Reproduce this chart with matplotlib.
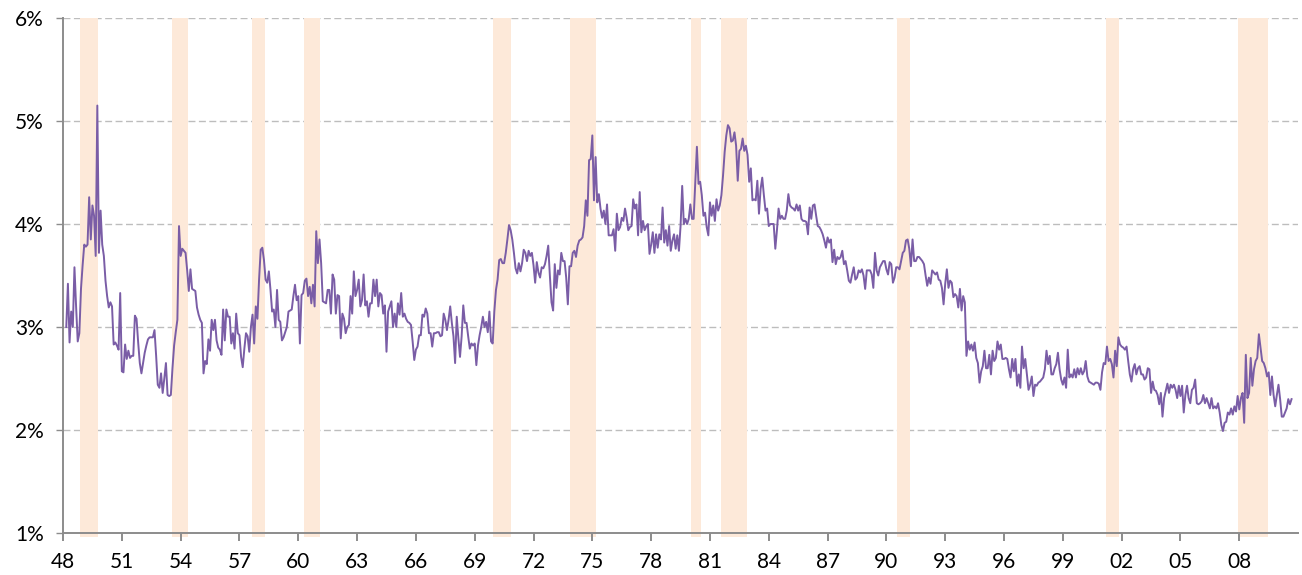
import numpy as np
import matplotlib
matplotlib.use("Agg")
import matplotlib.pyplot as plt

# Monthly series, March 1948 .. September 2010 (percent)
rate_1940s = [
    3.0, 3.42, 2.85, 3.15, 3.0, 3.58, 3.2, 2.86, 2.94, 3.37,                  # 1948 (Mar-Dec)
    3.6, 3.8, 3.78, 3.8, 4.26, 3.85, 4.18, 4.08, 3.69, 5.15, 3.72, 4.13,      # 1949
]
rate_1950s = [
    3.8, 3.69, 3.45, 3.3, 3.19, 3.24, 3.2, 2.83, 2.85, 2.82, 2.78, 3.33,      # 1950
    2.57, 2.56, 2.83, 2.69, 2.77, 2.70, 2.72, 2.72, 3.11, 3.08, 2.85, 2.65,   # 1951
    2.55, 2.65, 2.75, 2.82, 2.88, 2.9, 2.9, 2.9, 2.97, 2.72, 2.44, 2.41,      # 1952
    2.55, 2.36, 2.5, 2.65, 2.34, 2.33, 2.34, 2.6, 2.82, 2.95, 3.07, 3.98,     # 1953
    3.69, 3.76, 3.74, 3.72, 3.55, 3.35, 3.56, 3.37, 3.36, 3.35, 3.19, 3.12,   # 1954
    3.07, 3.04, 2.55, 2.67, 2.64, 2.88, 2.77, 3.07, 2.97, 3.07, 2.87, 2.8,    # 1955
    2.78, 2.73, 3.17, 2.87, 3.17, 3.1, 3.1, 2.84, 2.94, 2.79, 3.13, 2.94,     # 1956
    2.92, 2.71, 2.61, 2.79, 2.94, 2.91, 2.76, 3.0, 3.12, 2.84, 3.2, 3.08,     # 1957
    3.46, 3.75, 3.77, 3.65, 3.46, 3.43, 3.54, 3.36, 3.15, 3.17, 3.0, 3.36,    # 1958
    3.07, 3.05, 2.87, 2.9, 2.95, 3.0, 3.15, 3.16, 3.17, 3.3, 3.41, 3.26,      # 1959
]
rate_1960s = [
    3.3, 2.84, 3.31, 3.33, 3.45, 3.47, 3.3, 3.39, 3.23, 3.41, 3.2, 3.93,      # 1960
    3.62, 3.85, 3.62, 3.25, 3.24, 3.23, 3.36, 3.36, 3.13, 3.51, 3.46, 3.13,   # 1961
    3.31, 3.3, 2.89, 3.13, 3.08, 2.94, 3.0, 3.02, 3.3, 3.13, 3.54, 3.3,       # 1962
    3.36, 3.46, 3.2, 3.26, 3.51, 3.21, 3.25, 3.1, 3.23, 3.23, 3.46, 3.3,      # 1963
    3.46, 3.2, 3.33, 3.31, 3.13, 3.21, 2.76, 3.15, 3.2, 3.25, 3.0, 3.13,      # 1964
    3.0, 3.23, 3.12, 3.33, 3.1, 3.13, 3.08, 3.05, 3.04, 3.02, 2.86, 2.68,     # 1965
    2.78, 2.81, 2.92, 2.92, 3.12, 3.1, 3.18, 3.13, 2.94, 2.94, 2.81, 2.94,    # 1966
    2.94, 2.95, 2.95, 2.91, 2.92, 3.13, 3.07, 2.97, 3.07, 3.2, 3.04, 2.91,    # 1967
    2.65, 3.1, 2.89, 2.71, 2.91, 3.21, 3.04, 3.04, 2.91, 2.79, 2.84, 2.82,    # 1968
    2.84, 2.63, 2.82, 2.92, 3.0, 3.1, 3.0, 3.05, 2.95, 3.15, 2.86, 2.84,      # 1969
]
rate_1970s = [
    3.15, 3.36, 3.46, 3.65, 3.66, 3.62, 3.62, 3.72, 3.85, 3.99, 3.94, 3.85,   # 1970
    3.72, 3.57, 3.52, 3.62, 3.54, 3.62, 3.75, 3.72, 3.64, 3.74, 3.69, 3.72,   # 1971
    3.6, 3.43, 3.63, 3.53, 3.48, 3.58, 3.57, 3.61, 3.69, 3.79, 3.5, 3.24,     # 1972
    3.16, 3.61, 3.38, 3.55, 3.51, 3.72, 3.64, 3.64, 3.48, 3.22, 3.59, 3.59,   # 1973
    3.72, 3.74, 3.68, 3.79, 3.84, 3.85, 3.87, 3.98, 4.23, 4.08, 4.62, 4.63,   # 1974
    4.86, 4.23, 4.65, 4.21, 4.29, 4.15, 4.06, 4.13, 4.0, 4.19, 3.89, 3.89,    # 1975
    3.89, 3.95, 3.74, 4.1, 3.94, 3.97, 4.06, 4.03, 4.15, 4.06, 3.94, 3.97,    # 1976
    3.98, 4.24, 4.15, 4.19, 3.89, 4.31, 3.92, 4.03, 3.94, 3.98, 4.0, 3.71,    # 1977
    3.8, 3.92, 3.72, 3.9, 3.77, 3.9, 3.85, 4.16, 3.82, 3.94, 3.79, 3.98,      # 1978
    3.74, 3.84, 3.9, 3.76, 3.89, 3.74, 3.98, 4.37, 4.0, 4.05, 4.0, 4.05,      # 1979
]
rate_1980s = [
    4.19, 4.05, 4.05, 4.41, 4.75, 4.39, 4.41, 4.28, 4.08, 4.11, 3.97, 3.89,   # 1980
    4.21, 4.08, 4.18, 4.03, 4.24, 4.13, 4.18, 4.28, 4.47, 4.7, 4.86, 4.96,    # 1981
    4.93, 4.8, 4.81, 4.89, 4.76, 4.42, 4.71, 4.73, 4.83, 4.71, 4.76, 4.67,    # 1982
    4.41, 4.54, 4.23, 4.24, 4.23, 4.42, 4.1, 4.34, 4.45, 4.28, 4.13, 4.15,    # 1983
    3.98, 4.0, 4.0, 4.0, 3.76, 3.94, 4.15, 4.05, 4.08, 4.05, 4.05, 4.13,      # 1984
    4.29, 4.18, 4.16, 4.15, 4.13, 4.19, 4.13, 4.18, 4.05, 4.03, 4.03, 4.02,   # 1985
    3.9, 4.16, 4.05, 4.18, 4.19, 4.08, 3.98, 3.97, 3.94, 3.9, 3.84, 3.77,     # 1986
    3.87, 3.82, 3.85, 3.63, 3.75, 3.61, 3.68, 3.66, 3.68, 3.74, 3.61, 3.64,   # 1987
    3.55, 3.45, 3.43, 3.51, 3.58, 3.46, 3.48, 3.55, 3.53, 3.56, 3.5, 3.37,    # 1988
    3.55, 3.55, 3.55, 3.51, 3.38, 3.72, 3.55, 3.5, 3.58, 3.61, 3.64, 3.64,    # 1989
]
rate_1990s = [
    3.56, 3.51, 3.63, 3.61, 3.43, 3.48, 3.58, 3.58, 3.56, 3.64, 3.72, 3.74,   # 1990
    3.84, 3.85, 3.76, 3.59, 3.85, 3.64, 3.64, 3.68, 3.68, 3.66, 3.64, 3.61,   # 1991
    3.5, 3.4, 3.48, 3.42, 3.55, 3.53, 3.51, 3.53, 3.46, 3.45, 3.38, 3.22,     # 1992
    3.42, 3.56, 3.38, 3.45, 3.43, 3.29, 3.32, 3.3, 3.19, 3.37, 3.16, 3.3,     # 1993
    3.24, 2.72, 2.86, 2.78, 2.83, 2.77, 2.85, 2.7, 2.65, 2.46, 2.57, 2.62,    # 1994
    2.77, 2.6, 2.6, 2.73, 2.54, 2.77, 2.67, 2.7, 2.86, 2.78, 2.83, 2.69,      # 1995
    2.69, 2.7, 2.69, 2.59, 2.51, 2.69, 2.57, 2.69, 2.43, 2.54, 2.41, 2.81,    # 1996
    2.6, 2.69, 2.54, 2.39, 2.44, 2.52, 2.33, 2.44, 2.43, 2.46, 2.47, 2.49,    # 1997
    2.51, 2.59, 2.77, 2.64, 2.72, 2.54, 2.54, 2.6, 2.64, 2.75, 2.59, 2.49,    # 1998
    2.44, 2.51, 2.41, 2.78, 2.51, 2.54, 2.51, 2.59, 2.51, 2.6, 2.54, 2.6,     # 1999
]
rate_2000s = [
    2.54, 2.57, 2.67, 2.52, 2.47, 2.46, 2.45, 2.44, 2.46, 2.46, 2.45, 2.39,   # 2000
    2.56, 2.65, 2.64, 2.81, 2.67, 2.69, 2.64, 2.51, 2.77, 2.62, 2.9, 2.83,    # 2001
    2.81, 2.8, 2.78, 2.81, 2.67, 2.54, 2.47, 2.59, 2.64, 2.54, 2.6, 2.62,     # 2002
    2.54, 2.54, 2.49, 2.51, 2.6, 2.59, 2.36, 2.47, 2.39, 2.38, 2.34, 2.25,    # 2003
    2.36, 2.13, 2.31, 2.38, 2.45, 2.36, 2.44, 2.41, 2.44, 2.39, 2.31, 2.43,   # 2004
    2.33, 2.43, 2.17, 2.34, 2.43, 2.31, 2.26, 2.39, 2.41, 2.49, 2.26, 2.25,   # 2005
    2.26, 2.28, 2.34, 2.26, 2.31, 2.26, 2.21, 2.31, 2.21, 2.23, 2.21, 2.26,   # 2006
    2.17, 2.05, 1.99, 2.07, 2.08, 2.17, 2.15, 2.21, 2.15, 2.23, 2.18, 2.33,   # 2007
    2.2, 2.31, 2.36, 2.07, 2.73, 2.31, 2.36, 2.7, 2.43, 2.59, 2.67, 2.7,      # 2008
    2.93, 2.8, 2.67, 2.65, 2.6, 2.52, 2.56, 2.34, 2.52, 2.34, 2.23, 2.34,     # 2009
    2.44, 2.3, 2.13, 2.13, 2.17, 2.21, 2.3, 2.25, 2.3,                        # 2010 (Jan-Sep)
]
series_start = "1948-03"

# NBER recessions (first month, last month)
recessions = [
    ("1948-11", "1949-10"), ("1953-07", "1954-05"), ("1957-08", "1958-04"),
    ("1960-04", "1961-02"), ("1969-12", "1970-11"), ("1973-11", "1975-03"),
    ("1980-01", "1980-07"), ("1981-07", "1982-11"), ("1990-07", "1991-03"),
    ("2001-03", "2001-11"), ("2007-12", "2009-06"),
]

tick_years = list(range(1948, 2010, 3))
y_ticks = [1, 2, 3, 4, 5, 6]

LINE_COLOR = "#7A5DA6"
BAND_COLOR = "#FDE9D9"
AXIS_COLOR = "#8C8C8C"
GRID_COLOR = "#BDBDBD"


def to_year(month_str):
    m = np.datetime64(month_str, "M").astype(int)  # months since 1970-01
    return 1970 + m / 12.0


rate = np.array(rate_1940s + rate_1950s + rate_1960s + rate_1970s
                + rate_1980s + rate_1990s + rate_2000s)
months = np.arange(np.datetime64(series_start, "M"),
                   np.datetime64(series_start, "M") + len(rate))
x = 1970 + months.astype(int) / 12.0

plt.rcParams["font.family"] = ["Lato", "DejaVu Sans"]

fig = plt.figure(figsize=(13.02, 5.75), dpi=100)
ax = fig.add_axes([0.0484, 0.073, 0.9486, 0.8957])

# shaded recession months (centred on the monthly points)
half = 1 / 24
for start, end in recessions:
    ax.axvspan(to_year(start) + half, to_year(end) + half,
               ymin=-0.007, ymax=1, color=BAND_COLOR, lw=0, zorder=1,
               clip_on=False)

for yv in y_ticks[1:]:
    ax.axhline(yv, color=GRID_COLOR, lw=1.0, linestyle=(0, (5, 2.5)),
               zorder=0)

ax.plot(x, rate, color=LINE_COLOR, lw=1.4, zorder=3)

ax.set_xlim(1948, 2011)
ax.set_ylim(1, 6)
ax.set_xticks(tick_years)
ax.set_xticklabels([f"{y % 100:02d}" for y in tick_years])
ax.set_yticks(y_ticks)
ax.set_yticklabels([f"{v}%" for v in y_ticks])

for side in ["top", "right"]:
    ax.spines[side].set_visible(False)
for side in ["left", "bottom"]:
    ax.spines[side].set_color(AXIS_COLOR)
    ax.spines[side].set_linewidth(1.4)
    ax.spines[side].set_zorder(4)

ax.tick_params(axis="x", direction="out", length=6, width=1.4,
               color=AXIS_COLOR, labelsize=15, pad=8, labelcolor="black")
ax.tick_params(axis="y", direction="out", length=5, width=1.0,
               color=AXIS_COLOR, labelsize=15, pad=9, labelcolor="black")

plt.savefig("out.png", dpi=100)
